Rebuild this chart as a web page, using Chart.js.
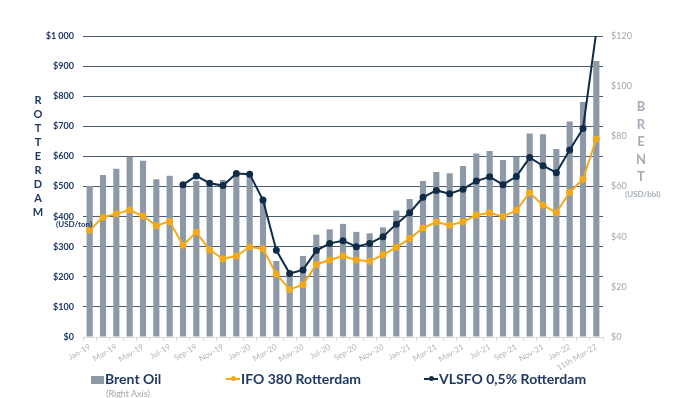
<!DOCTYPE html>
<html>
<head>
<meta charset="utf-8">
<script src="https://cdn.jsdelivr.net/npm/chart.js@4/dist/chart.umd.min.js"></script>
<style>
  body { margin: 0; background: #fff; font-family: Lato, "Open Sans", sans-serif; }
  #wrap { position: relative; width: 699px; height: 398px; overflow: hidden; }
  #chart { position: absolute; left: 0; top: 0; }
  .lbl { position: absolute; white-space: nowrap; }
  .stack { position: absolute; text-align: center; font-weight: bold; }
  .navy { color: #1f3864; }
  .grey { color: #a5adb8; }
  .leg { position: absolute; top: 370px; font-size: 14px; font-weight: bold; color: #1f3864; line-height: 18px; }
  .sym { display: inline-block; position: relative; width: 14px; height: 8px; margin-right: 1px; vertical-align: 1px; }
  .sym i { position: absolute; left: 0; right: 0; top: 3px; height: 2px; }
  .sym b { position: absolute; left: 5px; top: 1px; width: 5px; height: 5px; border-radius: 50%; }
</style>
</head>
<body>
<div id="wrap">
  <canvas id="chart" width="699" height="398"></canvas>

  <div class="stack navy" style="left:31px; top:93px; width:14px; font-size:11px; line-height:14px;">R<br>O<br>T<br>T<br>E<br>R<br>D<br>A<br>M</div>
  <div class="lbl navy" style="left:56px; top:219px; font-size:8px; font-weight:bold;">(USD/ton)</div>

  <div class="stack grey" style="left:633px; top:98px; width:16px; font-size:13px; line-height:17.6px;">B<br>R<br>E<br>N<br>T</div>
  <div class="lbl grey" style="left:625px; top:189px; font-size:8px; font-weight:bold;">(USD/bbl)</div>

  <div class="leg" style="left:91px;"><span style="display:inline-block; width:13px; height:8px; background:#8d99a6; margin-right:1px; vertical-align:0px;"></span>Brent Oil</div>
  <div class="lbl" style="left:106px; top:388px; font-size:9px; color:#a6a6a6;">(Right Axis)</div>
  <div class="leg" style="left:226px;"><span class="sym"><i style="background:#f5a917"></i><b style="background:#f5a917"></b></span>IFO 380 Rotterdam</div>
  <div class="leg" style="left:424px;"><span class="sym"><i style="background:#0f2c48"></i><b style="background:#0f2c48"></b></span>VLSFO 0,5% Rotterdam</div>
</div>

<script>
const months = [
  "Jan-19", "Feb-19", "Mar-19", "Apr-19", "May-19", "Jun-19", "Jul-19", "Aug-19", "Sep-19", "Oct-19", "Nov-19", "Dec-19",
  "Jan-20", "Feb-20", "Mar-20", "Apr-20", "May-20", "Jun-20", "Jul-20", "Aug-20", "Sep-20", "Oct-20", "Nov-20", "Dec-20",
  "Jan-21", "Feb-21", "Mar-21", "Apr-21", "May-21", "Jun-21", "Jul-21", "Aug-21", "Sep-21", "Oct-21", "Nov-21", "Dec-21",
  "Jan-22", "Feb-22", "11th Mar-22"
];

// Brent, USD/bbl (right axis)
const brentOil = [
  60.2, 64.6, 67.1, 71.9, 70.3, 62.9, 64.3, 60.2, 62.3, 59.7, 62.6, 64.6,
  64.6, 55.3, 30.3, 25.4, 32.3, 40.8, 42.9, 45.1, 41.9, 41.3, 43.7, 50.4,
  55.0, 62.2, 65.8, 65.3, 68.2, 73.2, 74.2, 70.6, 71.9, 81.1, 80.8, 75.0,
  85.9, 93.7, 110.0
];

// USD/ton (left axis)
const ifo380 = [
  355, 398, 409, 422, 402, 370, 384, 305, 348, 289, 260, 269,
  299, 293, 209, 158, 174, 241, 256, 269, 256, 252, 273, 298,
  327, 362, 382, 371, 383, 405, 413, 400, 421, 479, 438, 413,
  481, 524, 658
];

// last point runs off the top of the plot in the original
const vlsfo = [
  null, null, null, null, null, null, null, 506, 535, 511, 503, 543,
  541, 455, 288, 211, 223, 287, 311, 320, 300, 311, 333, 375,
  413, 464, 487, 476, 491, 518, 532, 506, 533, 596, 569, 546,
  621, 693, 1015
];

const leftTicks = { min: 0, max: 1000, step: 100 };
const rightTicks = { min: 0, max: 120, step: 20 };

const fontFamily = "Lato, 'Open Sans', sans-serif";

function money(v) {
  return "$" + String(v).replace(/\B(?=(\d{3})+(?!\d))/g, " ");
}

new Chart(document.getElementById("chart"), {
  type: "bar",
  data: {
    labels: months,
    datasets: [
      {
        type: "line",
        label: "VLSFO 0,5% Rotterdam",
        data: vlsfo,
        yAxisID: "y",
        borderColor: "#0f2c48",
        backgroundColor: "#0f2c48",
        borderWidth: 2,
        pointRadius: 2.5,
        pointHoverRadius: 2.5,
        tension: 0,
        clip: 0,
        order: 1
      },
      {
        type: "line",
        label: "IFO 380 Rotterdam",
        data: ifo380,
        yAxisID: "y",
        borderColor: "#f5a917",
        backgroundColor: "#f5a917",
        borderWidth: 2,
        pointRadius: 2.5,
        pointHoverRadius: 2.5,
        tension: 0,
        order: 2
      },
      {
        label: "Brent Oil",
        data: brentOil,
        yAxisID: "y1",
        backgroundColor: "#8d99a6",
        barPercentage: 0.46,
        categoryPercentage: 1,
        order: 3
      }
    ]
  },
  options: {
    responsive: false,
    animation: false,
    layout: { padding: { top: 36, left: 0, right: 0, bottom: 0 } },
    plugins: {
      legend: { display: false },
      tooltip: { enabled: false }
    },
    scales: {
      x: {
        afterFit: s => { s.height = 61; },
        grid: {
          drawOnChartArea: false,
          drawTicks: true,
          tickLength: 4,
          color: "#d9d9d9"
        },
        border: { display: true, color: "#d9d9d9" },
        ticks: {
          autoSkip: false,
          minRotation: 30,
          maxRotation: 30,
          padding: 1,
          color: "#b5b5b5",
          font: { family: fontFamily, size: 8 },
          callback: (v, i) => (i % 2 === 0 ? months[i] : "")
        }
      },
      y: {
        position: "left",
        min: leftTicks.min,
        max: leftTicks.max,
        afterFit: s => { s.width = 83; },
        grid: { color: "#4a5b72", lineWidth: 1, drawTicks: false },
        border: { display: false },
        ticks: {
          stepSize: leftTicks.step,
          padding: 9,
          color: "#1f3864",
          font: { family: fontFamily, size: 9, weight: "bold" },
          callback: v => money(v)
        }
      },
      y1: {
        position: "right",
        min: rightTicks.min,
        max: rightTicks.max,
        afterFit: s => { s.width = 96; },
        grid: { drawOnChartArea: false, drawTicks: false },
        border: { display: false },
        ticks: {
          stepSize: rightTicks.step,
          padding: 8,
          color: "#a6a6a6",
          font: { family: fontFamily, size: 9 },
          callback: v => "$" + v
        }
      }
    }
  }
});
</script>
</body>
</html>
